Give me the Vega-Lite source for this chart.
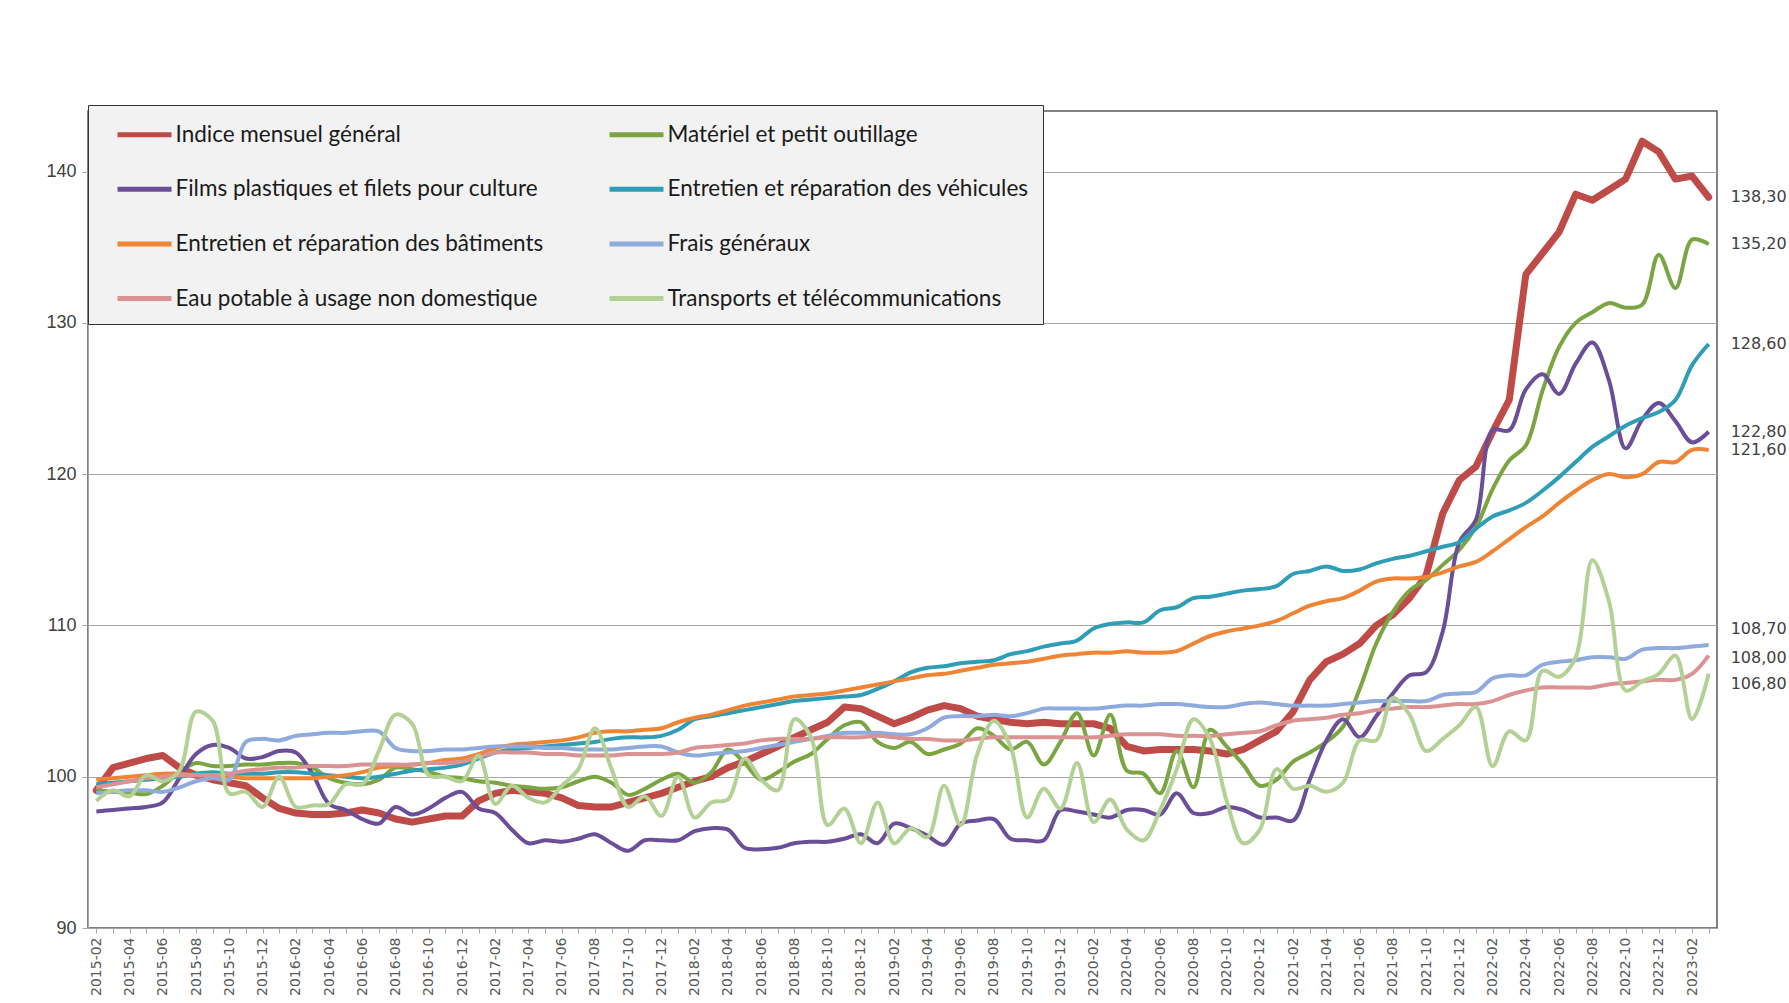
{
"$schema":"https://vega.github.io/schema/vega-lite/v6.json",
"width":1629,"height":817,
"autosize":{"type":"none"},
"padding":{"left":88,"top":111,"right":72,"bottom":75},
"background":"white",
"config":{"view":{"stroke":"#595959","strokeWidth":1.5}},
"datasets":{
"series":[{"s":"a","serie":"Indice mensuel général"},{"s":"b","serie":"Matériel et petit outillage"},{"s":"c","serie":"Films plastiques et filets pour culture"},{"s":"d","serie":"Entretien et réparation des véhicules"},{"s":"e","serie":"Entretien et réparation des bâtiments"},{"s":"f","serie":"Frais généraux"},{"s":"g","serie":"Eau potable à  usage non domestique"},{"s":"h","serie":"Transports et télécommunications"}],
"pts":[
{"m":"2015-02","s":"a","v":99.1},{"m":"2015-03","s":"a","v":100.6},{"m":"2015-04","s":"a","v":100.9},{"m":"2015-05","s":"a","v":101.2},{"m":"2015-06","s":"a","v":101.4},{"m":"2015-07","s":"a","v":100.6},{"m":"2015-08","s":"a","v":100.1},{"m":"2015-09","s":"a","v":99.8},{"m":"2015-10","s":"a","v":99.6},{"m":"2015-11","s":"a","v":99.4},{"m":"2015-12","s":"a","v":98.6},{"m":"2016-01","s":"a","v":97.9},{"m":"2016-02","s":"a","v":97.6},{"m":"2016-03","s":"a","v":97.5},{"m":"2016-04","s":"a","v":97.5},{"m":"2016-05","s":"a","v":97.6},{"m":"2016-06","s":"a","v":97.8},{"m":"2016-07","s":"a","v":97.6},{"m":"2016-08","s":"a","v":97.2},{"m":"2016-09","s":"a","v":97.0},{"m":"2016-10","s":"a","v":97.2},{"m":"2016-11","s":"a","v":97.4},{"m":"2016-12","s":"a","v":97.4},{"m":"2017-01","s":"a","v":98.4},{"m":"2017-02","s":"a","v":98.9},
{"m":"2017-03","s":"a","v":99.1},{"m":"2017-04","s":"a","v":99.0},{"m":"2017-05","s":"a","v":98.9},{"m":"2017-06","s":"a","v":98.6},{"m":"2017-07","s":"a","v":98.1},{"m":"2017-08","s":"a","v":98.0},{"m":"2017-09","s":"a","v":98.0},{"m":"2017-10","s":"a","v":98.3},{"m":"2017-11","s":"a","v":98.6},{"m":"2017-12","s":"a","v":98.9},{"m":"2018-01","s":"a","v":99.3},{"m":"2018-02","s":"a","v":99.7},{"m":"2018-03","s":"a","v":100.0},{"m":"2018-04","s":"a","v":100.6},{"m":"2018-05","s":"a","v":101.0},{"m":"2018-06","s":"a","v":101.5},{"m":"2018-07","s":"a","v":102.0},{"m":"2018-08","s":"a","v":102.6},{"m":"2018-09","s":"a","v":103.1},{"m":"2018-10","s":"a","v":103.6},{"m":"2018-11","s":"a","v":104.6},{"m":"2018-12","s":"a","v":104.5},{"m":"2019-01","s":"a","v":104.0},{"m":"2019-02","s":"a","v":103.5},{"m":"2019-03","s":"a","v":103.9},
{"m":"2019-04","s":"a","v":104.4},{"m":"2019-05","s":"a","v":104.7},{"m":"2019-06","s":"a","v":104.5},{"m":"2019-07","s":"a","v":104.0},{"m":"2019-08","s":"a","v":103.8},{"m":"2019-09","s":"a","v":103.6},{"m":"2019-10","s":"a","v":103.5},{"m":"2019-11","s":"a","v":103.6},{"m":"2019-12","s":"a","v":103.5},{"m":"2020-01","s":"a","v":103.5},{"m":"2020-02","s":"a","v":103.5},{"m":"2020-03","s":"a","v":103.2},{"m":"2020-04","s":"a","v":102.0},{"m":"2020-05","s":"a","v":101.7},{"m":"2020-06","s":"a","v":101.8},{"m":"2020-07","s":"a","v":101.8},{"m":"2020-08","s":"a","v":101.8},{"m":"2020-09","s":"a","v":101.7},{"m":"2020-10","s":"a","v":101.5},{"m":"2020-11","s":"a","v":101.8},{"m":"2020-12","s":"a","v":102.4},{"m":"2021-01","s":"a","v":103.0},{"m":"2021-02","s":"a","v":104.3},{"m":"2021-03","s":"a","v":106.4},{"m":"2021-04","s":"a","v":107.6},
{"m":"2021-05","s":"a","v":108.1},{"m":"2021-06","s":"a","v":108.8},{"m":"2021-07","s":"a","v":110.0},{"m":"2021-08","s":"a","v":110.7},{"m":"2021-09","s":"a","v":111.8},{"m":"2021-10","s":"a","v":113.3},{"m":"2021-11","s":"a","v":117.4},{"m":"2021-12","s":"a","v":119.6},{"m":"2022-01","s":"a","v":120.5},{"m":"2022-02","s":"a","v":122.8},{"m":"2022-03","s":"a","v":124.9},{"m":"2022-04","s":"a","v":133.2},{"m":"2022-05","s":"a","v":134.6},{"m":"2022-06","s":"a","v":136.0},{"m":"2022-07","s":"a","v":138.5},{"m":"2022-08","s":"a","v":138.1},{"m":"2022-09","s":"a","v":138.8},{"m":"2022-10","s":"a","v":139.5},{"m":"2022-11","s":"a","v":142.0},{"m":"2022-12","s":"a","v":141.3},{"m":"2023-01","s":"a","v":139.5},{"m":"2023-02","s":"a","v":139.7},{"m":"2023-03","s":"a","v":138.3},

{"m":"2015-02","s":"b","v":99.1},{"m":"2015-03","s":"b","v":99.0},{"m":"2015-04","s":"b","v":98.95},{"m":"2015-05","s":"b","v":98.85},{"m":"2015-06","s":"b","v":99.4},{"m":"2015-07","s":"b","v":100.3},{"m":"2015-08","s":"b","v":100.9},{"m":"2015-09","s":"b","v":100.7},{"m":"2015-10","s":"b","v":100.7},{"m":"2015-11","s":"b","v":100.8},{"m":"2015-12","s":"b","v":100.8},{"m":"2016-01","s":"b","v":100.9},{"m":"2016-02","s":"b","v":100.9},{"m":"2016-03","s":"b","v":100.6},{"m":"2016-04","s":"b","v":99.9},{"m":"2016-05","s":"b","v":99.6},{"m":"2016-06","s":"b","v":99.5},{"m":"2016-07","s":"b","v":99.8},{"m":"2016-08","s":"b","v":100.6},{"m":"2016-09","s":"b","v":100.5},{"m":"2016-10","s":"b","v":100.3},{"m":"2016-11","s":"b","v":100.0},{"m":"2016-12","s":"b","v":99.9},{"m":"2017-01","s":"b","v":99.7},{"m":"2017-02","s":"b","v":99.6},
{"m":"2017-03","s":"b","v":99.4},{"m":"2017-04","s":"b","v":99.3},{"m":"2017-05","s":"b","v":99.2},{"m":"2017-06","s":"b","v":99.3},{"m":"2017-07","s":"b","v":99.7},{"m":"2017-08","s":"b","v":100.0},{"m":"2017-09","s":"b","v":99.6},{"m":"2017-10","s":"b","v":98.8},{"m":"2017-11","s":"b","v":99.2},{"m":"2017-12","s":"b","v":99.8},{"m":"2018-01","s":"b","v":100.2},{"m":"2018-02","s":"b","v":99.6},{"m":"2018-03","s":"b","v":100.3},{"m":"2018-04","s":"b","v":101.8},{"m":"2018-05","s":"b","v":100.9},{"m":"2018-06","s":"b","v":99.8},{"m":"2018-07","s":"b","v":100.3},{"m":"2018-08","s":"b","v":101.0},{"m":"2018-09","s":"b","v":101.5},{"m":"2018-10","s":"b","v":102.5},{"m":"2018-11","s":"b","v":103.4},{"m":"2018-12","s":"b","v":103.6},{"m":"2019-01","s":"b","v":102.3},{"m":"2019-02","s":"b","v":101.9},{"m":"2019-03","s":"b","v":102.3},
{"m":"2019-04","s":"b","v":101.5},{"m":"2019-05","s":"b","v":101.8},{"m":"2019-06","s":"b","v":102.2},{"m":"2019-07","s":"b","v":103.2},{"m":"2019-08","s":"b","v":102.7},{"m":"2019-09","s":"b","v":101.8},{"m":"2019-10","s":"b","v":102.3},{"m":"2019-11","s":"b","v":100.8},{"m":"2019-12","s":"b","v":102.3},{"m":"2020-01","s":"b","v":104.2},{"m":"2020-02","s":"b","v":101.4},{"m":"2020-03","s":"b","v":104.1},{"m":"2020-04","s":"b","v":100.4},{"m":"2020-05","s":"b","v":100.2},{"m":"2020-06","s":"b","v":98.9},{"m":"2020-07","s":"b","v":101.7},{"m":"2020-08","s":"b","v":99.3},{"m":"2020-09","s":"b","v":103.1},{"m":"2020-10","s":"b","v":102.0},{"m":"2020-11","s":"b","v":100.8},{"m":"2020-12","s":"b","v":99.4},{"m":"2021-01","s":"b","v":99.8},{"m":"2021-02","s":"b","v":101.0},{"m":"2021-03","s":"b","v":101.6},{"m":"2021-04","s":"b","v":102.3},
{"m":"2021-05","s":"b","v":103.3},{"m":"2021-06","s":"b","v":105.8},{"m":"2021-07","s":"b","v":108.8},{"m":"2021-08","s":"b","v":110.9},{"m":"2021-09","s":"b","v":112.3},{"m":"2021-10","s":"b","v":113.0},{"m":"2021-11","s":"b","v":114.0},{"m":"2021-12","s":"b","v":115.0},{"m":"2022-01","s":"b","v":116.5},{"m":"2022-02","s":"b","v":119.0},{"m":"2022-03","s":"b","v":120.9},{"m":"2022-04","s":"b","v":121.9},{"m":"2022-05","s":"b","v":125.5},{"m":"2022-06","s":"b","v":128.4},{"m":"2022-07","s":"b","v":130.0},{"m":"2022-08","s":"b","v":130.7},{"m":"2022-09","s":"b","v":131.3},{"m":"2022-10","s":"b","v":131.0},{"m":"2022-11","s":"b","v":131.2},{"m":"2022-12","s":"b","v":134.5},{"m":"2023-01","s":"b","v":132.3},{"m":"2023-02","s":"b","v":135.5},{"m":"2023-03","s":"b","v":135.2},

{"m":"2015-02","s":"c","v":97.7},{"m":"2015-03","s":"c","v":97.8},{"m":"2015-04","s":"c","v":97.9},{"m":"2015-05","s":"c","v":98.0},{"m":"2015-06","s":"c","v":98.3},{"m":"2015-07","s":"c","v":99.9},{"m":"2015-08","s":"c","v":101.5},{"m":"2015-09","s":"c","v":102.1},{"m":"2015-10","s":"c","v":101.9},{"m":"2015-11","s":"c","v":101.2},{"m":"2015-12","s":"c","v":101.3},{"m":"2016-01","s":"c","v":101.7},{"m":"2016-02","s":"c","v":101.6},{"m":"2016-03","s":"c","v":100.2},{"m":"2016-04","s":"c","v":98.2},{"m":"2016-05","s":"c","v":97.8},{"m":"2016-06","s":"c","v":97.2},{"m":"2016-07","s":"c","v":96.9},{"m":"2016-08","s":"c","v":98.0},{"m":"2016-09","s":"c","v":97.5},{"m":"2016-10","s":"c","v":97.9},{"m":"2016-11","s":"c","v":98.6},{"m":"2016-12","s":"c","v":99.0},{"m":"2017-01","s":"c","v":97.9},{"m":"2017-02","s":"c","v":97.6},
{"m":"2017-03","s":"c","v":96.5},{"m":"2017-04","s":"c","v":95.6},{"m":"2017-05","s":"c","v":95.8},{"m":"2017-06","s":"c","v":95.7},{"m":"2017-07","s":"c","v":95.9},{"m":"2017-08","s":"c","v":96.2},{"m":"2017-09","s":"c","v":95.6},{"m":"2017-10","s":"c","v":95.1},{"m":"2017-11","s":"c","v":95.8},{"m":"2017-12","s":"c","v":95.8},{"m":"2018-01","s":"c","v":95.8},{"m":"2018-02","s":"c","v":96.4},{"m":"2018-03","s":"c","v":96.6},{"m":"2018-04","s":"c","v":96.5},{"m":"2018-05","s":"c","v":95.3},{"m":"2018-06","s":"c","v":95.2},{"m":"2018-07","s":"c","v":95.3},{"m":"2018-08","s":"c","v":95.6},{"m":"2018-09","s":"c","v":95.7},{"m":"2018-10","s":"c","v":95.7},{"m":"2018-11","s":"c","v":95.9},{"m":"2018-12","s":"c","v":96.2},{"m":"2019-01","s":"c","v":95.6},{"m":"2019-02","s":"c","v":96.9},{"m":"2019-03","s":"c","v":96.6},
{"m":"2019-04","s":"c","v":96.1},{"m":"2019-05","s":"c","v":95.5},{"m":"2019-06","s":"c","v":96.9},{"m":"2019-07","s":"c","v":97.1},{"m":"2019-08","s":"c","v":97.2},{"m":"2019-09","s":"c","v":95.9},{"m":"2019-10","s":"c","v":95.8},{"m":"2019-11","s":"c","v":95.8},{"m":"2019-12","s":"c","v":97.8},{"m":"2020-01","s":"c","v":97.7},{"m":"2020-02","s":"c","v":97.5},{"m":"2020-03","s":"c","v":97.3},{"m":"2020-04","s":"c","v":97.8},{"m":"2020-05","s":"c","v":97.8},{"m":"2020-06","s":"c","v":97.5},{"m":"2020-07","s":"c","v":98.9},{"m":"2020-08","s":"c","v":97.6},{"m":"2020-09","s":"c","v":97.6},{"m":"2020-10","s":"c","v":98.0},{"m":"2020-11","s":"c","v":97.8},{"m":"2020-12","s":"c","v":97.3},{"m":"2021-01","s":"c","v":97.3},{"m":"2021-02","s":"c","v":97.1},{"m":"2021-03","s":"c","v":99.8},{"m":"2021-04","s":"c","v":102.4},
{"m":"2021-05","s":"c","v":103.8},{"m":"2021-06","s":"c","v":102.6},{"m":"2021-07","s":"c","v":104.0},{"m":"2021-08","s":"c","v":105.5},{"m":"2021-09","s":"c","v":106.7},{"m":"2021-10","s":"c","v":106.9},{"m":"2021-11","s":"c","v":109.6},{"m":"2021-12","s":"c","v":115.5},{"m":"2022-01","s":"c","v":117.0},{"m":"2022-02","s":"c","v":122.9},{"m":"2022-03","s":"c","v":122.9},{"m":"2022-04","s":"c","v":125.6},{"m":"2022-05","s":"c","v":126.6},{"m":"2022-06","s":"c","v":125.3},{"m":"2022-07","s":"c","v":127.3},{"m":"2022-08","s":"c","v":128.7},{"m":"2022-09","s":"c","v":126.2},{"m":"2022-10","s":"c","v":121.7},{"m":"2022-11","s":"c","v":123.6},{"m":"2022-12","s":"c","v":124.7},{"m":"2023-01","s":"c","v":123.5},{"m":"2023-02","s":"c","v":122.1},{"m":"2023-03","s":"c","v":122.8},

{"m":"2015-02","s":"d","v":99.5},{"m":"2015-03","s":"d","v":99.6},{"m":"2015-04","s":"d","v":99.7},{"m":"2015-05","s":"d","v":99.8},{"m":"2015-06","s":"d","v":99.9},{"m":"2015-07","s":"d","v":100.0},{"m":"2015-08","s":"d","v":100.2},{"m":"2015-09","s":"d","v":100.3},{"m":"2015-10","s":"d","v":100.2},{"m":"2015-11","s":"d","v":100.2},{"m":"2015-12","s":"d","v":100.2},{"m":"2016-01","s":"d","v":100.3},{"m":"2016-02","s":"d","v":100.3},{"m":"2016-03","s":"d","v":100.2},{"m":"2016-04","s":"d","v":100.1},{"m":"2016-05","s":"d","v":100.0},{"m":"2016-06","s":"d","v":99.9},{"m":"2016-07","s":"d","v":100.0},{"m":"2016-08","s":"d","v":100.2},{"m":"2016-09","s":"d","v":100.4},{"m":"2016-10","s":"d","v":100.5},{"m":"2016-11","s":"d","v":100.6},{"m":"2016-12","s":"d","v":100.8},{"m":"2017-01","s":"d","v":101.2},{"m":"2017-02","s":"d","v":101.6},
{"m":"2017-03","s":"d","v":101.8},{"m":"2017-04","s":"d","v":101.9},{"m":"2017-05","s":"d","v":102.0},{"m":"2017-06","s":"d","v":102.1},{"m":"2017-07","s":"d","v":102.2},{"m":"2017-08","s":"d","v":102.3},{"m":"2017-09","s":"d","v":102.5},{"m":"2017-10","s":"d","v":102.6},{"m":"2017-11","s":"d","v":102.6},{"m":"2017-12","s":"d","v":102.7},{"m":"2018-01","s":"d","v":103.1},{"m":"2018-02","s":"d","v":103.8},{"m":"2018-03","s":"d","v":104.0},{"m":"2018-04","s":"d","v":104.2},{"m":"2018-05","s":"d","v":104.4},{"m":"2018-06","s":"d","v":104.6},{"m":"2018-07","s":"d","v":104.8},{"m":"2018-08","s":"d","v":105.0},{"m":"2018-09","s":"d","v":105.1},{"m":"2018-10","s":"d","v":105.2},{"m":"2018-11","s":"d","v":105.3},{"m":"2018-12","s":"d","v":105.4},{"m":"2019-01","s":"d","v":105.8},{"m":"2019-02","s":"d","v":106.3},{"m":"2019-03","s":"d","v":106.9},
{"m":"2019-04","s":"d","v":107.2},{"m":"2019-05","s":"d","v":107.3},{"m":"2019-06","s":"d","v":107.5},{"m":"2019-07","s":"d","v":107.6},{"m":"2019-08","s":"d","v":107.7},{"m":"2019-09","s":"d","v":108.1},{"m":"2019-10","s":"d","v":108.3},{"m":"2019-11","s":"d","v":108.6},{"m":"2019-12","s":"d","v":108.8},{"m":"2020-01","s":"d","v":109.0},{"m":"2020-02","s":"d","v":109.8},{"m":"2020-03","s":"d","v":110.1},{"m":"2020-04","s":"d","v":110.2},{"m":"2020-05","s":"d","v":110.2},{"m":"2020-06","s":"d","v":111.0},{"m":"2020-07","s":"d","v":111.2},{"m":"2020-08","s":"d","v":111.8},{"m":"2020-09","s":"d","v":111.9},{"m":"2020-10","s":"d","v":112.1},{"m":"2020-11","s":"d","v":112.3},{"m":"2020-12","s":"d","v":112.4},{"m":"2021-01","s":"d","v":112.6},{"m":"2021-02","s":"d","v":113.4},{"m":"2021-03","s":"d","v":113.6},{"m":"2021-04","s":"d","v":113.9},
{"m":"2021-05","s":"d","v":113.6},{"m":"2021-06","s":"d","v":113.7},{"m":"2021-07","s":"d","v":114.1},{"m":"2021-08","s":"d","v":114.4},{"m":"2021-09","s":"d","v":114.6},{"m":"2021-10","s":"d","v":114.9},{"m":"2021-11","s":"d","v":115.2},{"m":"2021-12","s":"d","v":115.5},{"m":"2022-01","s":"d","v":116.4},{"m":"2022-02","s":"d","v":117.2},{"m":"2022-03","s":"d","v":117.6},{"m":"2022-04","s":"d","v":118.1},{"m":"2022-05","s":"d","v":118.9},{"m":"2022-06","s":"d","v":119.8},{"m":"2022-07","s":"d","v":120.8},{"m":"2022-08","s":"d","v":121.8},{"m":"2022-09","s":"d","v":122.5},{"m":"2022-10","s":"d","v":123.2},{"m":"2022-11","s":"d","v":123.7},{"m":"2022-12","s":"d","v":124.1},{"m":"2023-01","s":"d","v":124.9},{"m":"2023-02","s":"d","v":127.2},{"m":"2023-03","s":"d","v":128.6},

{"m":"2015-02","s":"e","v":99.8},{"m":"2015-03","s":"e","v":99.9},{"m":"2015-04","s":"e","v":100.0},{"m":"2015-05","s":"e","v":100.1},{"m":"2015-06","s":"e","v":100.2},{"m":"2015-07","s":"e","v":100.2},{"m":"2015-08","s":"e","v":100.1},{"m":"2015-09","s":"e","v":100.1},{"m":"2015-10","s":"e","v":100.0},{"m":"2015-11","s":"e","v":99.9},{"m":"2015-12","s":"e","v":99.9},{"m":"2016-01","s":"e","v":99.9},{"m":"2016-02","s":"e","v":99.9},{"m":"2016-03","s":"e","v":99.9},{"m":"2016-04","s":"e","v":100.0},{"m":"2016-05","s":"e","v":100.1},{"m":"2016-06","s":"e","v":100.3},{"m":"2016-07","s":"e","v":100.6},{"m":"2016-08","s":"e","v":100.7},{"m":"2016-09","s":"e","v":100.8},{"m":"2016-10","s":"e","v":100.9},{"m":"2016-11","s":"e","v":101.1},{"m":"2016-12","s":"e","v":101.2},{"m":"2017-01","s":"e","v":101.5},{"m":"2017-02","s":"e","v":101.9},
{"m":"2017-03","s":"e","v":102.1},{"m":"2017-04","s":"e","v":102.2},{"m":"2017-05","s":"e","v":102.3},{"m":"2017-06","s":"e","v":102.4},{"m":"2017-07","s":"e","v":102.6},{"m":"2017-08","s":"e","v":102.9},{"m":"2017-09","s":"e","v":103.0},{"m":"2017-10","s":"e","v":103.0},{"m":"2017-11","s":"e","v":103.1},{"m":"2017-12","s":"e","v":103.2},{"m":"2018-01","s":"e","v":103.6},{"m":"2018-02","s":"e","v":103.9},{"m":"2018-03","s":"e","v":104.1},{"m":"2018-04","s":"e","v":104.4},{"m":"2018-05","s":"e","v":104.7},{"m":"2018-06","s":"e","v":104.9},{"m":"2018-07","s":"e","v":105.1},{"m":"2018-08","s":"e","v":105.3},{"m":"2018-09","s":"e","v":105.4},{"m":"2018-10","s":"e","v":105.5},{"m":"2018-11","s":"e","v":105.7},{"m":"2018-12","s":"e","v":105.9},{"m":"2019-01","s":"e","v":106.1},{"m":"2019-02","s":"e","v":106.3},{"m":"2019-03","s":"e","v":106.5},
{"m":"2019-04","s":"e","v":106.7},{"m":"2019-05","s":"e","v":106.8},{"m":"2019-06","s":"e","v":107.0},{"m":"2019-07","s":"e","v":107.2},{"m":"2019-08","s":"e","v":107.4},{"m":"2019-09","s":"e","v":107.5},{"m":"2019-10","s":"e","v":107.6},{"m":"2019-11","s":"e","v":107.8},{"m":"2019-12","s":"e","v":108.0},{"m":"2020-01","s":"e","v":108.1},{"m":"2020-02","s":"e","v":108.2},{"m":"2020-03","s":"e","v":108.2},{"m":"2020-04","s":"e","v":108.3},{"m":"2020-05","s":"e","v":108.2},{"m":"2020-06","s":"e","v":108.2},{"m":"2020-07","s":"e","v":108.3},{"m":"2020-08","s":"e","v":108.8},{"m":"2020-09","s":"e","v":109.3},{"m":"2020-10","s":"e","v":109.6},{"m":"2020-11","s":"e","v":109.8},{"m":"2020-12","s":"e","v":110.0},{"m":"2021-01","s":"e","v":110.3},{"m":"2021-02","s":"e","v":110.8},{"m":"2021-03","s":"e","v":111.3},{"m":"2021-04","s":"e","v":111.6},
{"m":"2021-05","s":"e","v":111.8},{"m":"2021-06","s":"e","v":112.3},{"m":"2021-07","s":"e","v":112.9},{"m":"2021-08","s":"e","v":113.1},{"m":"2021-09","s":"e","v":113.1},{"m":"2021-10","s":"e","v":113.2},{"m":"2021-11","s":"e","v":113.5},{"m":"2021-12","s":"e","v":113.9},{"m":"2022-01","s":"e","v":114.2},{"m":"2022-02","s":"e","v":114.9},{"m":"2022-03","s":"e","v":115.7},{"m":"2022-04","s":"e","v":116.5},{"m":"2022-05","s":"e","v":117.2},{"m":"2022-06","s":"e","v":118.1},{"m":"2022-07","s":"e","v":118.9},{"m":"2022-08","s":"e","v":119.6},{"m":"2022-09","s":"e","v":120.0},{"m":"2022-10","s":"e","v":119.8},{"m":"2022-11","s":"e","v":120.0},{"m":"2022-12","s":"e","v":120.8},{"m":"2023-01","s":"e","v":120.8},{"m":"2023-02","s":"e","v":121.6},{"m":"2023-03","s":"e","v":121.6},

{"m":"2015-02","s":"f","v":98.9},{"m":"2015-03","s":"f","v":99.0},{"m":"2015-04","s":"f","v":99.1},{"m":"2015-05","s":"f","v":99.1},{"m":"2015-06","s":"f","v":99.0},{"m":"2015-07","s":"f","v":99.3},{"m":"2015-08","s":"f","v":99.7},{"m":"2015-09","s":"f","v":99.9},{"m":"2015-10","s":"f","v":99.8},{"m":"2015-11","s":"f","v":102.3},{"m":"2015-12","s":"f","v":102.5},{"m":"2016-01","s":"f","v":102.4},{"m":"2016-02","s":"f","v":102.7},{"m":"2016-03","s":"f","v":102.8},{"m":"2016-04","s":"f","v":102.9},{"m":"2016-05","s":"f","v":102.9},{"m":"2016-06","s":"f","v":103.0},{"m":"2016-07","s":"f","v":103.0},{"m":"2016-08","s":"f","v":101.9},{"m":"2016-09","s":"f","v":101.7},{"m":"2016-10","s":"f","v":101.7},{"m":"2016-11","s":"f","v":101.8},{"m":"2016-12","s":"f","v":101.8},{"m":"2017-01","s":"f","v":101.9},{"m":"2017-02","s":"f","v":102.0},
{"m":"2017-03","s":"f","v":102.0},{"m":"2017-04","s":"f","v":102.0},{"m":"2017-05","s":"f","v":101.9},{"m":"2017-06","s":"f","v":101.9},{"m":"2017-07","s":"f","v":101.8},{"m":"2017-08","s":"f","v":101.8},{"m":"2017-09","s":"f","v":101.8},{"m":"2017-10","s":"f","v":101.9},{"m":"2017-11","s":"f","v":102.0},{"m":"2017-12","s":"f","v":102.0},{"m":"2018-01","s":"f","v":101.6},{"m":"2018-02","s":"f","v":101.4},{"m":"2018-03","s":"f","v":101.5},{"m":"2018-04","s":"f","v":101.6},{"m":"2018-05","s":"f","v":101.7},{"m":"2018-06","s":"f","v":101.9},{"m":"2018-07","s":"f","v":102.1},{"m":"2018-08","s":"f","v":102.3},{"m":"2018-09","s":"f","v":102.5},{"m":"2018-10","s":"f","v":102.7},{"m":"2018-11","s":"f","v":102.9},{"m":"2018-12","s":"f","v":102.9},{"m":"2019-01","s":"f","v":102.9},{"m":"2019-02","s":"f","v":102.8},{"m":"2019-03","s":"f","v":102.8},
{"m":"2019-04","s":"f","v":103.2},{"m":"2019-05","s":"f","v":103.9},{"m":"2019-06","s":"f","v":104.0},{"m":"2019-07","s":"f","v":104.0},{"m":"2019-08","s":"f","v":104.1},{"m":"2019-09","s":"f","v":104.0},{"m":"2019-10","s":"f","v":104.2},{"m":"2019-11","s":"f","v":104.5},{"m":"2019-12","s":"f","v":104.5},{"m":"2020-01","s":"f","v":104.5},{"m":"2020-02","s":"f","v":104.5},{"m":"2020-03","s":"f","v":104.6},{"m":"2020-04","s":"f","v":104.7},{"m":"2020-05","s":"f","v":104.7},{"m":"2020-06","s":"f","v":104.8},{"m":"2020-07","s":"f","v":104.8},{"m":"2020-08","s":"f","v":104.7},{"m":"2020-09","s":"f","v":104.6},{"m":"2020-10","s":"f","v":104.6},{"m":"2020-11","s":"f","v":104.8},{"m":"2020-12","s":"f","v":104.9},{"m":"2021-01","s":"f","v":104.8},{"m":"2021-02","s":"f","v":104.7},{"m":"2021-03","s":"f","v":104.7},{"m":"2021-04","s":"f","v":104.7},
{"m":"2021-05","s":"f","v":104.8},{"m":"2021-06","s":"f","v":104.9},{"m":"2021-07","s":"f","v":105.0},{"m":"2021-08","s":"f","v":105.0},{"m":"2021-09","s":"f","v":105.0},{"m":"2021-10","s":"f","v":105.0},{"m":"2021-11","s":"f","v":105.4},{"m":"2021-12","s":"f","v":105.5},{"m":"2022-01","s":"f","v":105.6},{"m":"2022-02","s":"f","v":106.5},{"m":"2022-03","s":"f","v":106.7},{"m":"2022-04","s":"f","v":106.7},{"m":"2022-05","s":"f","v":107.4},{"m":"2022-06","s":"f","v":107.6},{"m":"2022-07","s":"f","v":107.7},{"m":"2022-08","s":"f","v":107.9},{"m":"2022-09","s":"f","v":107.9},{"m":"2022-10","s":"f","v":107.8},{"m":"2022-11","s":"f","v":108.4},{"m":"2022-12","s":"f","v":108.5},{"m":"2023-01","s":"f","v":108.5},{"m":"2023-02","s":"f","v":108.6},{"m":"2023-03","s":"f","v":108.7},

{"m":"2015-02","s":"g","v":99.3},{"m":"2015-03","s":"g","v":99.5},{"m":"2015-04","s":"g","v":99.7},{"m":"2015-05","s":"g","v":99.9},{"m":"2015-06","s":"g","v":100.0},{"m":"2015-07","s":"g","v":100.1},{"m":"2015-08","s":"g","v":100.1},{"m":"2015-09","s":"g","v":100.1},{"m":"2015-10","s":"g","v":100.2},{"m":"2015-11","s":"g","v":100.4},{"m":"2015-12","s":"g","v":100.5},{"m":"2016-01","s":"g","v":100.6},{"m":"2016-02","s":"g","v":100.6},{"m":"2016-03","s":"g","v":100.7},{"m":"2016-04","s":"g","v":100.7},{"m":"2016-05","s":"g","v":100.7},{"m":"2016-06","s":"g","v":100.8},{"m":"2016-07","s":"g","v":100.8},{"m":"2016-08","s":"g","v":100.8},{"m":"2016-09","s":"g","v":100.8},{"m":"2016-10","s":"g","v":100.9},{"m":"2016-11","s":"g","v":100.9},{"m":"2016-12","s":"g","v":101.0},{"m":"2017-01","s":"g","v":101.3},{"m":"2017-02","s":"g","v":101.6},
{"m":"2017-03","s":"g","v":101.6},{"m":"2017-04","s":"g","v":101.6},{"m":"2017-05","s":"g","v":101.5},{"m":"2017-06","s":"g","v":101.5},{"m":"2017-07","s":"g","v":101.4},{"m":"2017-08","s":"g","v":101.4},{"m":"2017-09","s":"g","v":101.4},{"m":"2017-10","s":"g","v":101.5},{"m":"2017-11","s":"g","v":101.5},{"m":"2017-12","s":"g","v":101.5},{"m":"2018-01","s":"g","v":101.6},{"m":"2018-02","s":"g","v":101.9},{"m":"2018-03","s":"g","v":102.0},{"m":"2018-04","s":"g","v":102.1},{"m":"2018-05","s":"g","v":102.2},{"m":"2018-06","s":"g","v":102.4},{"m":"2018-07","s":"g","v":102.5},{"m":"2018-08","s":"g","v":102.5},{"m":"2018-09","s":"g","v":102.5},{"m":"2018-10","s":"g","v":102.6},{"m":"2018-11","s":"g","v":102.6},{"m":"2018-12","s":"g","v":102.6},{"m":"2019-01","s":"g","v":102.7},{"m":"2019-02","s":"g","v":102.6},{"m":"2019-03","s":"g","v":102.5},
{"m":"2019-04","s":"g","v":102.5},{"m":"2019-05","s":"g","v":102.4},{"m":"2019-06","s":"g","v":102.4},{"m":"2019-07","s":"g","v":102.5},{"m":"2019-08","s":"g","v":102.6},{"m":"2019-09","s":"g","v":102.6},{"m":"2019-10","s":"g","v":102.6},{"m":"2019-11","s":"g","v":102.6},{"m":"2019-12","s":"g","v":102.6},{"m":"2020-01","s":"g","v":102.6},{"m":"2020-02","s":"g","v":102.6},{"m":"2020-03","s":"g","v":102.7},{"m":"2020-04","s":"g","v":102.8},{"m":"2020-05","s":"g","v":102.8},{"m":"2020-06","s":"g","v":102.8},{"m":"2020-07","s":"g","v":102.7},{"m":"2020-08","s":"g","v":102.7},{"m":"2020-09","s":"g","v":102.7},{"m":"2020-10","s":"g","v":102.8},{"m":"2020-11","s":"g","v":102.9},{"m":"2020-12","s":"g","v":103.0},{"m":"2021-01","s":"g","v":103.4},{"m":"2021-02","s":"g","v":103.7},{"m":"2021-03","s":"g","v":103.8},{"m":"2021-04","s":"g","v":103.9},
{"m":"2021-05","s":"g","v":104.1},{"m":"2021-06","s":"g","v":104.2},{"m":"2021-07","s":"g","v":104.4},{"m":"2021-08","s":"g","v":104.5},{"m":"2021-09","s":"g","v":104.6},{"m":"2021-10","s":"g","v":104.6},{"m":"2021-11","s":"g","v":104.7},{"m":"2021-12","s":"g","v":104.8},{"m":"2022-01","s":"g","v":104.8},{"m":"2022-02","s":"g","v":105.0},{"m":"2022-03","s":"g","v":105.4},{"m":"2022-04","s":"g","v":105.7},{"m":"2022-05","s":"g","v":105.9},{"m":"2022-06","s":"g","v":105.9},{"m":"2022-07","s":"g","v":105.9},{"m":"2022-08","s":"g","v":105.9},{"m":"2022-09","s":"g","v":106.1},{"m":"2022-10","s":"g","v":106.2},{"m":"2022-11","s":"g","v":106.3},{"m":"2022-12","s":"g","v":106.4},{"m":"2023-01","s":"g","v":106.4},{"m":"2023-02","s":"g","v":106.8},{"m":"2023-03","s":"g","v":108.0},

{"m":"2015-02","s":"h","v":98.4},{"m":"2015-03","s":"h","v":99.1},{"m":"2015-04","s":"h","v":98.7},{"m":"2015-05","s":"h","v":100.1},{"m":"2015-06","s":"h","v":99.7},{"m":"2015-07","s":"h","v":100.4},{"m":"2015-08","s":"h","v":104.3},{"m":"2015-09","s":"h","v":103.7},{"m":"2015-10","s":"h","v":98.9},{"m":"2015-11","s":"h","v":99.0},{"m":"2015-12","s":"h","v":98.0},{"m":"2016-01","s":"h","v":100.0},{"m":"2016-02","s":"h","v":98.0},{"m":"2016-03","s":"h","v":98.1},{"m":"2016-04","s":"h","v":98.2},{"m":"2016-05","s":"h","v":99.5},{"m":"2016-06","s":"h","v":99.5},{"m":"2016-07","s":"h","v":101.7},{"m":"2016-08","s":"h","v":104.1},{"m":"2016-09","s":"h","v":103.5},{"m":"2016-10","s":"h","v":100.1},{"m":"2016-11","s":"h","v":100.0},{"m":"2016-12","s":"h","v":99.7},{"m":"2017-01","s":"h","v":101.4},{"m":"2017-02","s":"h","v":98.2},
{"m":"2017-03","s":"h","v":99.4},{"m":"2017-04","s":"h","v":98.6},{"m":"2017-05","s":"h","v":98.3},{"m":"2017-06","s":"h","v":99.4},{"m":"2017-07","s":"h","v":100.5},{"m":"2017-08","s":"h","v":103.2},{"m":"2017-09","s":"h","v":100.5},{"m":"2017-10","s":"h","v":98.0},{"m":"2017-11","s":"h","v":98.7},{"m":"2017-12","s":"h","v":97.4},{"m":"2018-01","s":"h","v":100.0},{"m":"2018-02","s":"h","v":97.3},{"m":"2018-03","s":"h","v":98.3},{"m":"2018-04","s":"h","v":98.5},{"m":"2018-05","s":"h","v":101.2},{"m":"2018-06","s":"h","v":99.8},{"m":"2018-07","s":"h","v":99.1},{"m":"2018-08","s":"h","v":103.8},{"m":"2018-09","s":"h","v":102.6},{"m":"2018-10","s":"h","v":96.8},{"m":"2018-11","s":"h","v":97.9},{"m":"2018-12","s":"h","v":95.6},{"m":"2019-01","s":"h","v":98.3},{"m":"2019-02","s":"h","v":95.6},{"m":"2019-03","s":"h","v":96.6},
{"m":"2019-04","s":"h","v":96.0},{"m":"2019-05","s":"h","v":99.4},{"m":"2019-06","s":"h","v":96.8},{"m":"2019-07","s":"h","v":101.5},{"m":"2019-08","s":"h","v":103.7},{"m":"2019-09","s":"h","v":102.0},{"m":"2019-10","s":"h","v":97.3},{"m":"2019-11","s":"h","v":99.2},{"m":"2019-12","s":"h","v":97.9},{"m":"2020-01","s":"h","v":100.9},{"m":"2020-02","s":"h","v":97.0},{"m":"2020-03","s":"h","v":98.5},{"m":"2020-04","s":"h","v":96.5},{"m":"2020-05","s":"h","v":95.8},{"m":"2020-06","s":"h","v":97.8},{"m":"2020-07","s":"h","v":100.5},{"m":"2020-08","s":"h","v":103.8},{"m":"2020-09","s":"h","v":102.5},{"m":"2020-10","s":"h","v":98.4},{"m":"2020-11","s":"h","v":95.6},{"m":"2020-12","s":"h","v":96.5},{"m":"2021-01","s":"h","v":100.5},{"m":"2021-02","s":"h","v":99.2},{"m":"2021-03","s":"h","v":99.4},{"m":"2021-04","s":"h","v":99.0},
{"m":"2021-05","s":"h","v":99.6},{"m":"2021-06","s":"h","v":102.4},{"m":"2021-07","s":"h","v":102.4},{"m":"2021-08","s":"h","v":105.2},{"m":"2021-09","s":"h","v":104.1},{"m":"2021-10","s":"h","v":101.7},{"m":"2021-11","s":"h","v":102.5},{"m":"2021-12","s":"h","v":103.4},{"m":"2022-01","s":"h","v":104.6},{"m":"2022-02","s":"h","v":100.7},{"m":"2022-03","s":"h","v":103.0},{"m":"2022-04","s":"h","v":102.4},{"m":"2022-05","s":"h","v":107.0},{"m":"2022-06","s":"h","v":106.6},{"m":"2022-07","s":"h","v":107.9},{"m":"2022-08","s":"h","v":114.3},{"m":"2022-09","s":"h","v":111.6},{"m":"2022-10","s":"h","v":105.7},{"m":"2022-11","s":"h","v":106.3},{"m":"2022-12","s":"h","v":106.8},{"m":"2023-01","s":"h","v":108.0},{"m":"2023-02","s":"h","v":103.8},{"m":"2023-03","s":"h","v":106.8}
]},
"data":{"name":"pts"},
"transform":[{"lookup":"s","from":{"data":{"name":"series"},"key":"s","fields":["serie"]}}],
"encoding":{
"x":{"field":"m","type":"ordinal","scale":{"type":"point","padding":0.5},
"axis":{"title":null,"labelAngle":-90,"labelExpr":"toNumber(substring(datum.value,5,7)) % 2 === 0 ? datum.value : ''","labelOverlap":false,"labelFont":"DejaVu Sans","labelFontSize":14,"labelColor":"#595959","tickColor":"#A6A6A6","tickSize":5,"domainColor":"#A6A6A6","labelPadding":4,"grid":false}},
"y":{"field":"v","type":"quantitative","scale":{"domain":[90,144],"nice":false,"zero":false},
"axis":{"title":null,"values":[90,100,110,120,130,140],"labelFont":"Liberation Sans","labelFontSize":18,"labelColor":"#404040","tickColor":"#A6A6A6","tickSize":6,"domainColor":"#A6A6A6","gridColor":"#A6A6A6","grid":true,"labelPadding":6}}
},
"layer":[
{"transform":[{"filter":"datum.s === 'a'"}],
"mark":{"type":"line","strokeWidth":7,"strokeJoin":"round","strokeCap":"round"},
"encoding":{"color":{"field":"serie","type":"nominal",
"scale":{"domain":["Indice mensuel général","Films plastiques et filets pour culture","Entretien et réparation des bâtiments","Eau potable à  usage non domestique","Matériel et petit outillage","Entretien et réparation des véhicules","Frais généraux","Transports et télécommunications"],
"range":["#BE4B48","#6A4E98","#EE8434","#DB9292","#7BA543","#2F9DB5","#8FAADC","#B4D195"]},
"legend":{"title":null,"orient":"none","legendX":0,"legendY":-6,"columns":2,"symbolType":"M0,0H4","symbolStrokeWidth":5,"symbolSize":729,"labelFont":"Lato","labelFontSize":22.5,"labelColor":"#1a1a1a","labelOffset":42,"labelLimit":0,"fillColor":"#F2F2F2","strokeColor":"#333333","padding":13.5,"rowPadding":26.7,"columnPadding":50}}}},
{"transform":[{"filter":"datum.s !== 'a'"}],
"mark":{"type":"line","strokeWidth":4,"interpolate":"catmull-rom"},
"encoding":{"color":{"field":"serie","type":"nominal"}}},
{"transform":[{"filter":"datum.m === '2023-03' && indexof(['a','b','c','d','e'], datum.s) >= 0"},{"calculate":"replace(format(datum.v,'.2f'),'.',',')","as":"lab"}],
"mark":{"type":"text","align":"left","baseline":"middle","dx":22,"font":"DejaVu Sans","fontSize":16,"color":"#404040"},
"encoding":{"text":{"field":"lab"}}},
{"transform":[{"filter":"datum.m === '2023-03' && datum.s === 'f'"},{"calculate":"replace(format(datum.v,'.2f'),'.',',')","as":"lab"}],
"mark":{"type":"text","align":"left","baseline":"middle","dx":22,"dy":-16,"font":"DejaVu Sans","fontSize":16,"color":"#404040"},
"encoding":{"text":{"field":"lab"}}},
{"transform":[{"filter":"datum.m === '2023-03' && datum.s === 'g'"},{"calculate":"replace(format(datum.v,'.2f'),'.',',')","as":"lab"}],
"mark":{"type":"text","align":"left","baseline":"middle","dx":22,"dy":2,"font":"DejaVu Sans","fontSize":16,"color":"#404040"},
"encoding":{"text":{"field":"lab"}}},
{"transform":[{"filter":"datum.m === '2023-03' && datum.s === 'h'"},{"calculate":"replace(format(datum.v,'.2f'),'.',',')","as":"lab"}],
"mark":{"type":"text","align":"left","baseline":"middle","dx":22,"dy":10,"font":"DejaVu Sans","fontSize":16,"color":"#404040"},
"encoding":{"text":{"field":"lab"}}}
]
}
